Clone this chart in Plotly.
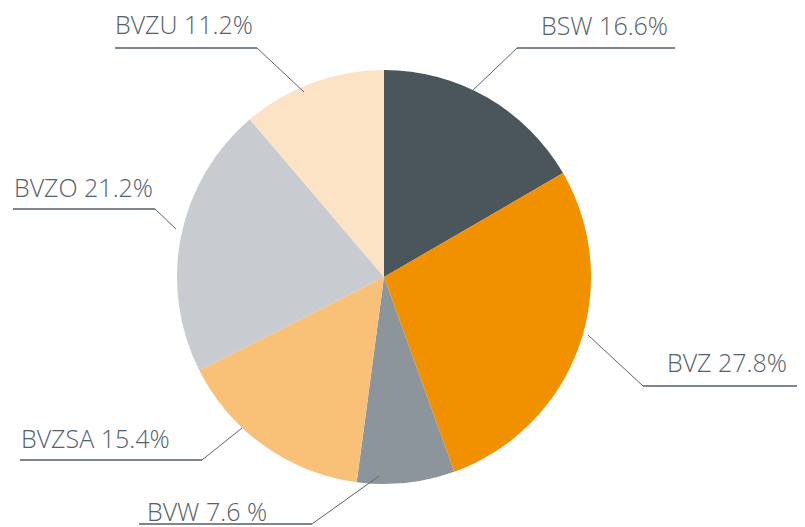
import plotly.graph_objects as go

W, H = 805, 527
OFF = 8  # page body margin offset

categories = ["BSW", "BVZ", "BVW", "BVZSA", "BVZO", "BVZU"]
values = [16.6, 27.8, 7.6, 15.4, 21.2, 11.2]
label_texts = ["BSW 16.6%", "BVZ 27.8%", "BVW 7.6 %", "BVZSA 15.4%", "BVZO 21.2%", "BVZU 11.2%"]
colors = ["#4a555c", "#f29100", "#8c959c", "#f9c077", "#c8ccd0", "#fde3c5"]

TEXT_COLOR = "#56616a"
LINE_COLOR = "#5a646b"


def px(x):
    return (x - OFF) / W


def py(y):
    return 1 - (y - OFF) / H


cx, cy, r = 384, 277, 207

fig = go.Figure(go.Pie(
    labels=categories,
    values=values,
    sort=False,
    direction="clockwise",
    rotation=0,
    marker=dict(colors=colors, line=dict(width=0)),
    textinfo="none",
    hoverinfo="label+percent",
    domain=dict(x=[px(cx - r), px(cx + r)], y=[py(cy + r), py(cy - r)]),
    showlegend=False,
))

# label placement: (text x, text center y, underline y, underline x0, x1, leader end x, y)
label_layout = {
    "BSW": (539, 25, 48, 517, 675, 470, 93),
    "BVZ": (665, 362, 386, 643, 805, 588, 335),
    "BVW": (145, 511, 524, 139, 312, 379, 476),
    "BVZSA": (19, 438, 460, 20, 202, 242, 428),
    "BVZO": (12, 187, 209, 13, 155, 176, 229),
    "BVZU": (113, 24, 48, 115, 257, 304, 92),
}

shapes = []
annotations = []
for cat, txt in zip(categories, label_texts):
    tx, ty, uy, ux0, ux1, lx, ly = label_layout[cat]
    annotations.append(dict(
        x=px(tx), y=py(ty), xref="paper", yref="paper",
        text=txt, showarrow=False, xanchor="left", yanchor="middle",
        font=dict(family="Open Sans", size=25, color=TEXT_COLOR, weight=300),
    ))
    shapes.append(dict(type="line", xref="paper", yref="paper",
                       x0=px(ux0), x1=px(ux1), y0=py(uy), y1=py(uy),
                       line=dict(color="#7d868c", width=2)))
    ex = ux0 if abs(ux0 - cx) < abs(ux1 - cx) else ux1
    shapes.append(dict(type="line", xref="paper", yref="paper",
                       x0=px(ex), x1=px(lx), y0=py(uy), y1=py(ly),
                       line=dict(color=LINE_COLOR, width=1)))

fig.update_layout(
    width=W, height=H,
    margin=dict(l=0, r=0, t=0, b=0),
    paper_bgcolor="white",
    plot_bgcolor="white",
    shapes=shapes,
    annotations=annotations,
)

fig.write_html("out.html")
